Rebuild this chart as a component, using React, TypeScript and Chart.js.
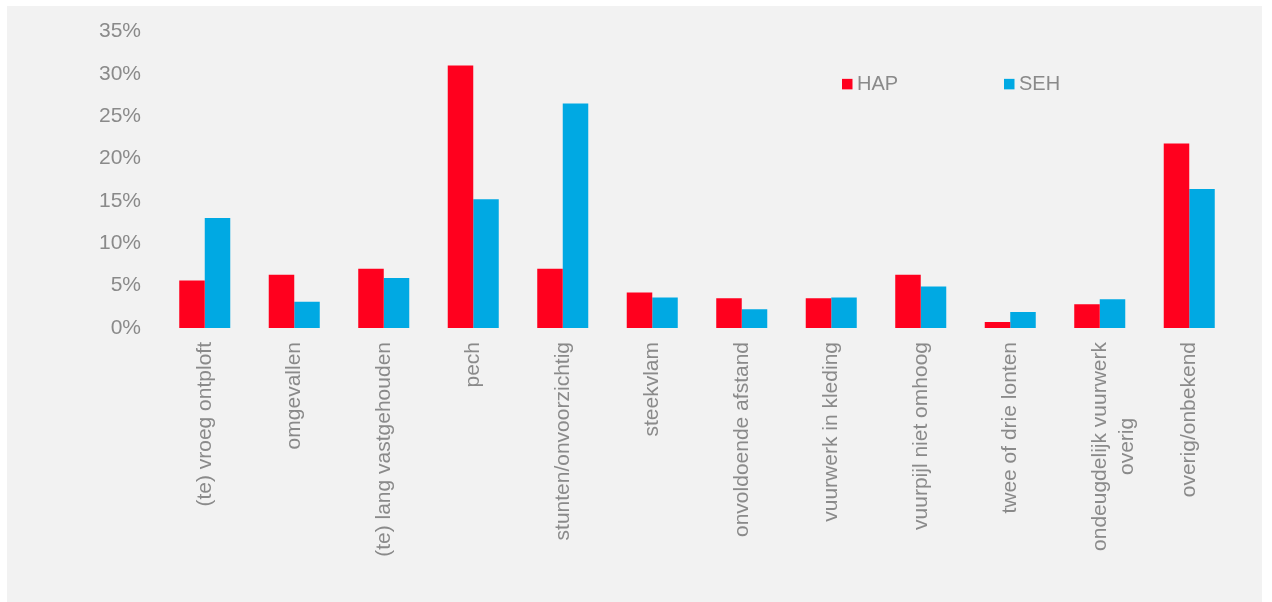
import React, { useEffect, useRef } from "react";
import { Chart, registerables } from "chart.js";

Chart.register(...registerables);

const categories: (string | string[])[] = [
  "(te) vroeg ontploft",
  "omgevallen",
  "(te) lang vastgehouden",
  "pech",
  "stunten/onvoorzichtig",
  "steekvlam",
  "onvoldoende afstand",
  "vuurwerk in kleding",
  "vuurpijl niet omhoog",
  "twee of drie lonten",
  ["ondeugdelijk vuurwerk", "overig"],
  "overig/onbekend",
];

const hapValues = [5.6, 6.3, 7.0, 31.0, 7.0, 4.2, 3.5, 3.5, 6.3, 0.7, 2.8, 21.8];
const sehValues = [13.0, 3.1, 5.9, 15.2, 26.5, 3.6, 2.2, 3.6, 4.9, 1.9, 3.4, 16.4];
const seriesNames = ["HAP", "SEH"];
const yMin = 0;
const yMax = 35;
const yStep = 5;

const RED = "#FF001E";
const BLUE = "#00A9E3";
const TEXT = "#8a8a8a";
const FONT = "'Liberation Sans', Arial, sans-serif";
const TICK_SIZE = 21;

let measureCtx: CanvasRenderingContext2D | null = null;
function centerLines(lbl: string | string[]): string | string[] {
  if (!Array.isArray(lbl)) return lbl;
  if (!measureCtx) measureCtx = document.createElement("canvas").getContext("2d");
  const ctx = measureCtx!;
  ctx.font = `${TICK_SIZE}px ${FONT}`;
  const widths = lbl.map((l) => ctx.measureText(l).width);
  const maxW = Math.max(...widths);
  const sp = ctx.measureText(" ").width || 1;
  return lbl.map((l, i) => l + " ".repeat(Math.max(0, Math.round((maxW - widths[i]) / 2 / sp))));
}

const legendPlugin = {
  id: "customLegend",
  afterDraw(chart: any) {
    const ctx = chart.ctx;
    const area = chart.chartArea;
    ctx.save();
    ctx.font = `20px ${FONT}`;
    ctx.textBaseline = "middle";
    const y = area.top + 52.5;
    const starts = [area.left + 682, area.left + 844];
    chart.data.datasets.forEach((ds: any, i: number) => {
      const x = starts[i];
      ctx.fillStyle = ds.backgroundColor;
      ctx.fillRect(x, y - 5.25, 10.5, 10.5);
      ctx.fillStyle = TEXT;
      ctx.fillText(ds.label, x + 15, y + 0.5);
    });
    ctx.restore();
  },
};

export default function App() {
  const canvasRef = useRef<HTMLCanvasElement | null>(null);

  useEffect(() => {
    if (!canvasRef.current) return;
    const chart = new Chart(canvasRef.current, {
      type: "bar",
      data: {
        labels: categories,
        datasets: [
          {
            label: seriesNames[0],
            data: hapValues,
            backgroundColor: RED,
            categoryPercentage: 0.57,
            barPercentage: 1.0,
          },
          {
            label: seriesNames[1],
            data: sehValues,
            backgroundColor: BLUE,
            categoryPercentage: 0.57,
            barPercentage: 1.0,
          },
        ],
      },
      options: {
        responsive: false,
        animation: false,
        layout: { padding: { top: 31, right: 38, bottom: 0, left: 0 } },
        plugins: {
          legend: { display: false },
          tooltip: { enabled: false },
          title: { display: false },
        },
        scales: {
          x: {
            grid: { display: false, drawTicks: false },
            border: { display: false },
            afterFit: (s: any) => {
              s.height = 274;
            },
            ticks: {
              autoSkip: false,
              minRotation: 90,
              maxRotation: 90,
              padding: 14,
              color: TEXT,
              font: { family: FONT, size: TICK_SIZE, lineHeight: 1.3 },
              callback: (_v: any, index: number) => centerLines(categories[index]),
            },
          },
          y: {
            min: yMin,
            max: yMax,
            grid: { display: false, drawTicks: false },
            border: { display: false },
            afterFit: (s: any) => {
              s.width = 160;
            },
            ticks: {
              stepSize: yStep,
              padding: 19,
              color: TEXT,
              font: { family: FONT, size: TICK_SIZE },
              callback: (v: any) => `${v}%`,
            },
          },
        },
      },
      plugins: [legendPlugin],
    });
    return () => chart.destroy();
  }, []);

  return (
    <div
      style={{
        position: "fixed",
        left: 0,
        top: 0,
        width: 1272,
        height: 602,
        background: "#ffffff",
        overflow: "hidden",
      }}
    >
      <div
        style={{
          position: "absolute",
          left: 7,
          top: 6,
          width: 1255,
          height: 596,
          background: "#f2f2f2",
        }}
      />
      <canvas
        ref={canvasRef}
        width={1272}
        height={602}
        style={{ position: "absolute", left: 0, top: 0, width: 1272, height: 602 }}
      />
    </div>
  );
}
